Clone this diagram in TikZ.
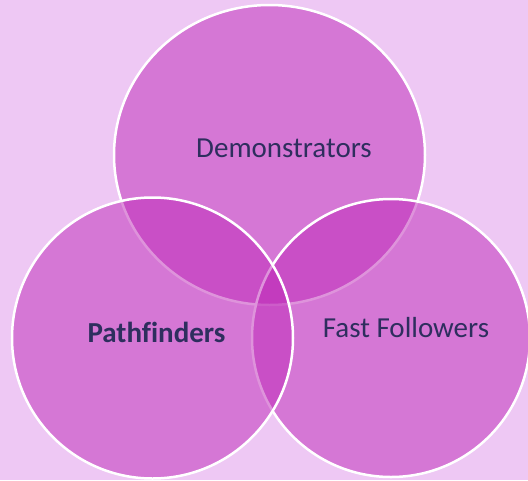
\documentclass[tikz,border=0pt]{standalone}
\usepackage{fontspec}
\setmainfont{Carlito}[Ligatures=NoCommon]
\definecolor{bgpurple}{RGB}{238,200,244}
\definecolor{circfill}{RGB}{190,40,184}
\definecolor{circtext}{RGB}{46,46,94}
\tikzset{
  venn/.style={fill=circfill, fill opacity=0.5, draw=white, draw opacity=1, line width=2.5pt},
  lbl/.style={text=circtext, font=\fontsize{29}{34}\selectfont, inner sep=0pt, text opacity=1}
}
\begin{document}
\begin{tikzpicture}[x=1pt,y=-1pt]
\fill[bgpurple] (0,0) rectangle (528,480);
\useasboundingbox (0,0) rectangle (528,480);
\draw[venn] (269.5,155) ellipse [x radius=155.5, y radius=150];
\draw[venn] (391,338) circle [radius=139];
\draw[venn] (152.5,338) circle [radius=140.5];
\node[lbl] (dem) at (284,148) {Demonstrators};
\node[lbl, font=\fontsize{29}{34}\selectfont\bfseries] (path) at (156.5,332) {Pathfinders};
\node[lbl] (fast) at (406,328) {Fast Followers};
\end{tikzpicture}
\end{document}
